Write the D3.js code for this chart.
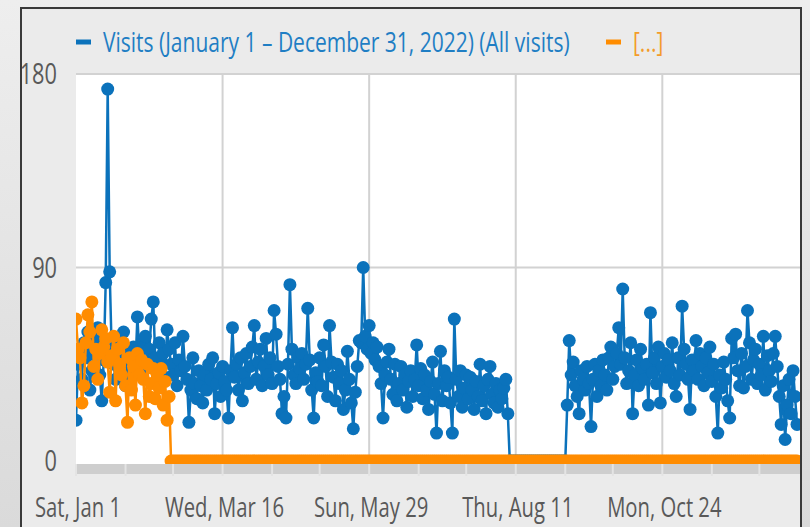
<!DOCTYPE html>
<html>
<head>
<meta charset="utf-8">
<script src="https://cdnjs.cloudflare.com/ajax/libs/d3/7.8.5/d3.min.js"></script>
<style>
  body { margin: 0; background: #e4e4e4; }
  .chartDiv { width: 810px; height: 527px; }
  text { font-family: "Open Sans", "Noto Sans", sans-serif; }
</style>
</head>
<body>
<div class="chartDiv"></div>
<script>
// data, one value per day starting Jan 1 2022
var startDay = "2022-01-01";
var visits = [
  19, 45, 52, 38, 55, 48, 60, 33, 42, 50,
  57, 62, 40, 28, 47, 83, 173, 88, 52, 45,
  38, 55, 49, 42, 60, 35, 51, 46, 39, 53,
  44, 67, 50, 41, 55, 58, 46, 52, 66, 74,
  48, 37, 55, 44, 50, 39, 61, 52, 45, 40,
  55, 35, 47, 42, 58, 44, 38, 18, 33, 48,
  36, 29, 42, 35, 27, 40, 33, 45, 38, 48,
  22, 36, 41, 30, 44, 37, 33, 20, 42, 62,
  39, 45, 33, 48, 28, 41, 50, 36, 44, 53,
  63, 38, 46, 52, 35, 44, 57, 40, 48, 36,
  70, 59, 44, 38, 22, 30, 20, 45, 82, 52,
  40, 36, 48, 43, 50, 38, 45, 71, 47, 33,
  20, 41, 37, 48, 35, 54, 44, 30, 63, 46,
  39, 28, 45, 36, 42, 24, 33, 51, 38, 27,
  15, 32, 44, 56, 55, 90, 58, 52, 63, 50,
  55, 47, 53, 44, 36, 20, 40, 46, 52, 38,
  31, 45, 28, 36, 44, 33, 40, 25, 37, 42,
  30, 38, 54, 35, 43, 29, 40, 33, 24, 37,
  46, 31, 13, 36, 51, 28, 42, 35, 39, 27,
  13, 66, 38, 30, 42, 25, 34, 40, 29, 39,
  33, 24, 37, 30, 45, 28, 35, 22, 38, 44,
  31, 27, 36, 25, 33, 29, 34, 38, 22, 0,
  0, 0, 0, 0, 0, 0, 0, 0, 0, 0,
  0, 0, 0, 0, 0, 0, 0, 0, 0, 0,
  0, 0, 0, 0, 0, 0, 0, 0,
  26, 56, 40, 46, 35, 30, 22, 42, 38, 33, 44, 36,
  16, 38, 45, 30, 42, 35, 47, 40, 33, 48,
  53, 38, 44, 50, 62, 45, 80, 48, 36, 42,
  55, 22, 40, 47, 35, 52, 43, 38, 45, 26,
  69, 41, 48, 36, 53, 27, 44, 50, 39, 47,
  42, 55, 36, 30, 48, 40, 72, 52, 45, 38,
  24, 47, 42, 56, 38, 50, 44, 35, 48, 41,
  53, 37, 45, 30, 13, 40, 34, 46, 38, 28,
  20, 57, 48, 59, 42, 35, 50, 34, 44, 70,
  55, 38, 47, 52, 36, 45, 40, 58, 33, 49,
  42, 37, 50, 58, 44, 30, 17, 35, 10, 26,
  38, 22, 42, 30, 17
];
// second series ("[...]"), same days
var otherVisits = [
  66, 52, 48, 27, 35, 55, 68, 60, 74, 44,
  52, 38, 50, 61, 53, 57, 46, 32, 49, 58,
  28, 52, 45, 40, 55, 35, 18, 48, 33, 44,
  26, 50, 40, 47, 38, 22, 45, 30, 36, 43,
  29, 40, 34, 43, 26, 37, 19, 30,
  0, 0, 0, 0, 0, 0, 0, 0, 0, 0, 0, 0, 0, 0, 0, 0, 0, 0, 0, 0,
  0, 0, 0, 0, 0, 0, 0, 0, 0, 0, 0, 0, 0, 0, 0, 0, 0, 0, 0, 0,
  0, 0, 0, 0, 0, 0, 0, 0, 0, 0, 0, 0, 0, 0, 0, 0, 0, 0, 0, 0,
  0, 0, 0, 0, 0, 0, 0, 0, 0, 0, 0, 0, 0, 0, 0, 0, 0, 0, 0, 0,
  0, 0, 0, 0, 0, 0, 0, 0, 0, 0, 0, 0, 0, 0, 0, 0, 0, 0, 0, 0,
  0, 0, 0, 0, 0, 0, 0, 0, 0, 0, 0, 0, 0, 0, 0, 0, 0, 0, 0, 0,
  0, 0, 0, 0, 0, 0, 0, 0, 0, 0, 0, 0, 0, 0, 0, 0, 0, 0, 0, 0,
  0, 0, 0, 0, 0, 0, 0, 0, 0, 0, 0, 0, 0, 0, 0, 0, 0, 0, 0, 0,
  0, 0, 0, 0, 0, 0, 0, 0, 0, 0, 0, 0, 0, 0, 0, 0, 0, 0, 0, 0,
  0, 0, 0, 0, 0, 0, 0, 0, 0, 0, 0, 0, 0, 0, 0, 0, 0, 0, 0, 0,
  0, 0, 0, 0, 0, 0, 0, 0, 0, 0, 0, 0, 0, 0, 0, 0, 0, 0, 0, 0,
  0, 0, 0, 0, 0, 0, 0, 0, 0, 0, 0, 0, 0, 0, 0, 0, 0, 0, 0, 0,
  0, 0, 0, 0, 0, 0, 0, 0, 0, 0, 0, 0, 0, 0, 0, 0, 0, 0, 0, 0,
  0, 0, 0, 0, 0, 0, 0, 0, 0, 0, 0, 0, 0, 0, 0, 0, 0, 0, 0, 0,
  0, 0, 0, 0, 0, 0, 0, 0, 0, 0, 0, 0, 0, 0, 0, 0, 0, 0, 0, 0,
  0, 0, 0, 0, 0, 0, 0, 0, 0, 0, 0, 0, 0, 0, 0, 0, 0
];
var xTicks      = ["2022-01-01", "2022-03-16", "2022-05-29", "2022-08-11", "2022-10-24"];
var yTicks      = [0, 90, 180];
var legendNames = ["Visits (January 1 \u2013 December 31, 2022) (All visits)", "[...]"];

(function(){
  var width  = 810,
      height = 527,
      plot   = {left: 76, right: 800, top: 74, bottom: 464},
      squeeze = 0.75,
      blue   = "#0b72bb",
      orange = "#ff8c00";

  var svg = d3.select(".chartDiv")
              .append("svg")
              .attr("width", width)
              .attr("height", height);

  //background + frame
  var grad = svg.append("defs").append("linearGradient").attr("id", "bg")
                .attr("x1", 0).attr("y1", 0).attr("x2", 0).attr("y2", 1);
  grad.append("stop").attr("offset", "0%").attr("stop-color", "#eeeeee");
  grad.append("stop").attr("offset", "100%").attr("stop-color", "#dadada");
  svg.append("rect").attr("width", width).attr("height", height).attr("fill", "url(#bg)");
  svg.append("rect").attr("x", 22).attr("y", 8).attr("width", 779).attr("height", height - 8)
     .attr("fill", "#ebebeb");
  svg.append("path").attr("d", "M21,527V8H801V527")
     .attr("fill", "none").attr("stroke", "#3a3a3a").attr("stroke-width", 2);

  //scales
  var parseDay = d3.utcParse("%Y-%m-%d");
  var start = parseDay(startDay);
  var x = d3.scaleUtc()
            .domain([start, d3.utcYear.offset(start, 1)])
            .range([plot.left, 799]);
  var y = d3.scaleLinear().domain([0, 180]).range([461, plot.top]);

  //plot area
  svg.append("rect").attr("x", plot.left).attr("y", plot.top)
     .attr("width", plot.right - plot.left).attr("height", plot.bottom - plot.top)
     .attr("fill", "#ffffff");

  //x band with minor ticks
  svg.append("rect").attr("x", plot.left).attr("y", plot.bottom)
     .attr("width", plot.right - plot.left).attr("height", 10).attr("fill", "#cecece");
  var minorDays = d3.range(0, 365, 74 / 3);
  svg.selectAll(".minor").data(minorDays).enter().append("line")
     .attr("class", "minor")
     .attr("x1", function(d){ return x(d3.utcDay.offset(start, Math.round(d))); })
     .attr("x2", function(d){ return x(d3.utcDay.offset(start, Math.round(d))); })
     .attr("y1", plot.bottom).attr("y2", plot.bottom + 12)
     .attr("stroke", "#e4e4e4").attr("stroke-width", 2);

  //grid
  svg.selectAll(".hgrid").data(yTicks.filter(function(d){ return d > 0; })).enter().append("line")
     .attr("class", "hgrid")
     .attr("x1", plot.left).attr("x2", plot.right)
     .attr("y1", function(d){ return y(d); }).attr("y2", function(d){ return y(d); })
     .attr("stroke", "#d2d2d2").attr("stroke-width", 2);
  svg.selectAll(".vgrid").data(xTicks.slice(1)).enter().append("line")
     .attr("class", "vgrid")
     .attr("x1", function(d){ return x(parseDay(d)); }).attr("x2", function(d){ return x(parseDay(d)); })
     .attr("y1", plot.top).attr("y2", plot.bottom)
     .attr("stroke", "#d2d2d2").attr("stroke-width", 2);

  //text squeezed horizontally like the source
  var label = function(parent, px, py){
    return parent.append("text")
                 .attr("transform", "translate(" + px + "," + py + ") scale(" + squeeze + ",1)");
  }

  //axis labels
  yTicks.forEach(function(d){
    label(svg, 57, y(d) + 10)
      .attr("text-anchor", "end").attr("font-size", 29).attr("fill", "#595959")
      .text(d);
  });
  var fmt = d3.utcFormat("%a, %b %-d");
  xTicks.forEach(function(d){
    label(svg, x(parseDay(d)) + 2, 517)
      .attr("text-anchor", "middle").attr("font-size", 27).attr("fill", "#595959")
      .text(fmt(parseDay(d)));
  });

  //series
  svg.append("clipPath").attr("id", "plotClip").append("rect")
     .attr("x", plot.left).attr("y", plot.top - 2)
     .attr("width", plot.right - plot.left).attr("height", plot.bottom - plot.top + 2);
  var g = svg.append("g").attr("clip-path", "url(#plotClip)");

  var drawSeries = function(values, color, r){
    var pts = values.map(function(v, i){ return {date: d3.utcDay.offset(start, i), value: v}; });
    var line = d3.line().x(function(d){ return x(d.date); }).y(function(d){ return y(d.value); });
    g.append("path").datum(pts).attr("d", line)
     .attr("fill", "none").attr("stroke", color).attr("stroke-width", 2.5);
    g.append("g").selectAll("circle").data(pts).enter().append("circle")
     .attr("cx", function(d){ return x(d.date); })
     .attr("cy", function(d){ return y(d.value); })
     .attr("r", r).attr("fill", color);
  }
  drawSeries(visits, blue, 6.5);
  drawSeries(otherVisits, orange, 6.5);

  //legend
  var legendX = [76, 606];
  var legendColors = [blue, orange];
  var legendText = ["#1f7ec4", "#f39c2a"];
  legendNames.forEach(function(name, i){
    svg.append("line").attr("x1", legendX[i]).attr("x2", legendX[i] + 15)
       .attr("y1", 42).attr("y2", 42)
       .attr("stroke", legendColors[i]).attr("stroke-width", 5);
    label(svg, legendX[i] + 27, 52)
       .attr("font-size", 28).attr("fill", legendText[i])
       .text(name);
  });
})()
</script>
</body>
</html>
